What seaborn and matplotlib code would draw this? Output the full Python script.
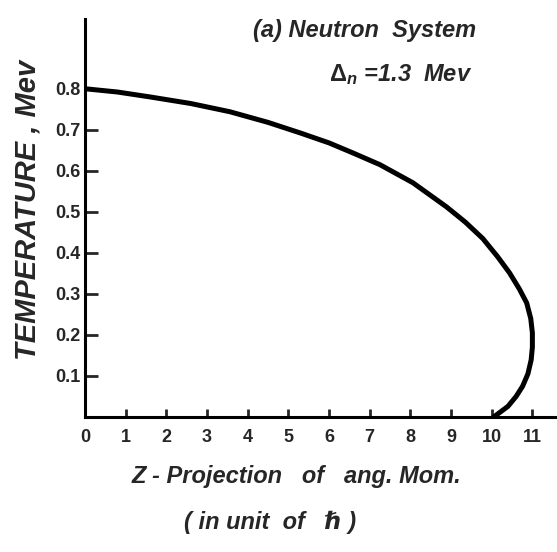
import numpy as np
import matplotlib
matplotlib.use("Agg")
import matplotlib.pyplot as plt
import seaborn as sns
import pandas as pd

# curve: z-projection of angular momentum vs temperature
z_proj = [0.0, 0.8, 1.6, 2.6, 3.56, 4.5, 5.3, 6.0, 6.6, 7.25, 8.06, 8.89, 9.35,
          9.78, 10.15, 10.44, 10.68, 10.86, 10.96, 11.0, 11.0, 10.97, 10.89, 10.76,
          10.6, 10.4, 10.05]
temperature = [0.80, 0.792, 0.78, 0.764, 0.744, 0.718, 0.692, 0.668, 0.643, 0.615,
               0.571, 0.512, 0.475, 0.435, 0.39, 0.351, 0.312, 0.278, 0.24, 0.205,
               0.17, 0.139, 0.105, 0.075, 0.05, 0.026, 0.0]

x_ticks = list(range(0, 12))
y_ticks = [0.1, 0.2, 0.3, 0.4, 0.5, 0.6, 0.7, 0.8]
y_tick_labels = ["0.1", "0.2", "0.3", "0.4", "0.5", "0.6", "0.7", "0.8"]

df = pd.DataFrame({"z": z_proj, "T": temperature})

sns.set_style("ticks")
plt.rcParams['font.family'] = ['Liberation Sans', 'DejaVu Sans']
plt.rcParams['mathtext.fontset'] = 'custom'
plt.rcParams['mathtext.rm'] = 'Liberation Sans:bold'
plt.rcParams['mathtext.it'] = 'Liberation Sans:italic:bold'

fig = plt.figure(figsize=(5.57, 5.52), dpi=100)
ax = fig.add_axes([0.1526, 0.2446, 0.847, 0.721])

sns.lineplot(data=df, x="z", y="T", sort=False, estimator=None, color="black",
             linewidth=3.6, ax=ax)
for ln in ax.lines:
    ln.set_solid_joinstyle("round")

ax.set_xlim(0, 11.6)
ax.set_ylim(0, 0.97)
ax.set_xticks(x_ticks)
ax.set_xticklabels([str(t) for t in x_ticks], fontsize=13, fontweight="bold")
ax.set_yticks(y_ticks)
ax.set_yticklabels(y_tick_labels, fontsize=13, fontweight="bold")
ax.tick_params(axis="x", direction="in", length=6, width=2, pad=9)
ax.tick_params(axis="y", direction="in", length=9, width=2, pad=3)
ax.set_xlabel("")
ax.set_ylabel("")

sns.despine(ax=ax)
for s in ["left", "bottom"]:
    ax.spines[s].set_linewidth(2.2)
    ax.spines[s].set_color("black")

fig.text(0.049, 0.62, "TEMPERATURE , Mev", rotation=90, ha="center", va="center",
         fontsize=21, fontstyle="italic", fontweight="bold")
fig.text(0.655, 0.945, "(a) Neutron  System", ha="center", va="center",
         fontsize=17, fontstyle="italic", fontweight="bold")
fig.text(0.72, 0.865, r"$\mathit{\Delta}_{\mathit{n}}$ =1.3  Mev", ha="center", va="center",
         fontsize=17, fontstyle="italic", fontweight="bold")
fig.text(0.533, 0.136, "Z - Projection   of   ang. Mom.", ha="center", va="center",
         fontsize=17, fontstyle="italic", fontweight="bold")
fig.text(0.485, 0.054, "( in unit  of   \u210f )", ha="center", va="center",
         fontsize=17, fontstyle="italic", fontweight="bold")

plt.savefig("out.png", dpi=100)
